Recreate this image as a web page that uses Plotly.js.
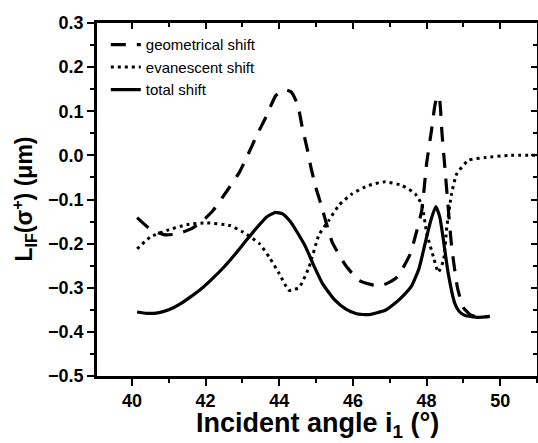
<!DOCTYPE html>
<html>
<head>
<meta charset="utf-8">
<script src="https://cdn.plot.ly/plotly-3.0.1.min.js"></script>
<style>html,body{margin:0;padding:0;background:#fff;}#chart{width:538px;height:443px;}</style>
</head>
<body>
<div id="chart"></div>
<script>
// Geometrical shift (dashed)
const geoX = [40.14, 40.54, 40.9, 41.22, 41.62, 41.9, 42.2, 42.56, 42.92, 43.14, 43.41, 43.64, 43.91, 44.14, 44.32, 44.5, 44.63, 44.77, 44.86, 44.99, 45.13, 45.31, 45.44, 45.8, 46.16, 46.5, 46.79, 47.2, 47.56, 47.69, 47.87, 48.0, 48.14, 48.22, 48.29, 48.35, 48.42, 48.5, 48.59, 48.68, 48.84, 49.0, 49.2, 49.45, 49.7];
const geoY = [-0.141, -0.170, -0.180, -0.178, -0.166, -0.150, -0.125, -0.083, -0.038, 0.0, 0.049, 0.087, 0.136, 0.149, 0.144, 0.115, 0.061, 0.011, -0.027, -0.072, -0.110, -0.163, -0.197, -0.249, -0.283, -0.293, -0.295, -0.276, -0.223, -0.185, -0.125, -0.02, 0.06, 0.11, 0.135, 0.128, 0.05, -0.03, -0.12, -0.205, -0.30, -0.345, -0.362, -0.366, -0.365];
// Evanescent shift (dotted)
const evaX = [40.14, 40.5, 40.95, 41.49, 42.03, 42.66, 43.02, 43.46, 43.73, 44.0, 44.27, 44.54, 44.81, 45.08, 45.35, 45.62, 45.98, 46.43, 46.88, 47.33, 47.69, 47.87, 48.01, 48.19, 48.32, 48.46, 48.55, 48.68, 48.82, 49.14, 49.59, 50.22, 51.0];
const evaY = [-0.212, -0.185, -0.170, -0.157, -0.153, -0.159, -0.174, -0.200, -0.231, -0.268, -0.306, -0.299, -0.253, -0.180, -0.147, -0.113, -0.087, -0.068, -0.060, -0.068, -0.087, -0.112, -0.178, -0.231, -0.265, -0.238, -0.163, -0.087, -0.042, -0.011, -0.005, 0.0, 0.0];
// Total shift (solid)
const totX = [40.14, 40.4, 40.7, 41.0, 41.3, 41.6, 41.9, 42.2, 42.5, 42.8, 43.1, 43.4, 43.65, 43.9, 44.1, 44.3, 44.5, 44.72, 44.95, 45.17, 45.5, 45.8, 46.1, 46.43, 46.88, 47.1, 47.33, 47.6, 47.8, 47.96, 48.1, 48.25, 48.36, 48.46, 48.59, 48.77, 48.9, 49.05, 49.4, 49.72];
const totY = [-0.355, -0.358, -0.357, -0.350, -0.337, -0.320, -0.301, -0.278, -0.253, -0.224, -0.193, -0.163, -0.140, -0.129, -0.133, -0.150, -0.176, -0.208, -0.252, -0.290, -0.327, -0.348, -0.359, -0.361, -0.351, -0.338, -0.321, -0.295, -0.255, -0.200, -0.152, -0.116, -0.140, -0.193, -0.268, -0.336, -0.355, -0.363, -0.367, -0.365];

const names = ['geometrical shift', 'evanescent shift', 'total shift'];
const xTitle = 'Incident angle i<sub>1</sub> (°)';
const yTitle = 'L<sub>IF</sub>(σ<sup>+</sup>) (μm)';

const FONT = 'Liberation Sans, Arial, sans-serif';
const XR = [39.05, 51];
const YR = [-0.5, 0.3];

const data = [
  {x: geoX, y: geoY, name: names[0], type: 'scatter', mode: 'lines', line: {color: '#000', width: 3.2, dash: '15px,11px', shape: 'spline', smoothing: 0.5}},
  {x: evaX, y: evaY, name: names[1], type: 'scatter', mode: 'lines', xaxis: 'x2', yaxis: 'y2', line: {color: '#000', width: 3, dash: '3px,4px', shape: 'spline', smoothing: 0.5}},
  {x: totX, y: totY, name: names[2], type: 'scatter', mode: 'lines', line: {color: '#000', width: 3.2, shape: 'spline', smoothing: 0.5}}
];

const TL = {family: FONT, size: 18, color: '#000', weight: 'bold'};

const layout = {
  width: 538, height: 443,
  margin: {l: 97, r: 1, t: 23, b: 67},
  showlegend: true,
  legend: {x: 0.02, y: 0.985, xanchor: 'left', yanchor: 'top', bgcolor: 'rgba(0,0,0,0)', traceorder: 'normal',
           font: {family: FONT, size: 15, color: '#000'}, tracegroupgap: 0},
  xaxis: {
    range: XR, tickmode: 'linear', tick0: 40, dtick: 2, ticks: 'outside', ticklen: 7, tickwidth: 2, tickcolor: '#000',
    showgrid: false, zeroline: false, showline: true, linecolor: '#000', linewidth: 2.5, automargin: false,
    tickfont: TL,
    minor: {ticks: 'outside', dtick: 1, ticklen: 4, tickwidth: 2, tickcolor: '#000'}
  },
  yaxis: {
    range: YR, tickmode: 'linear', tick0: 0, dtick: 0.1, tickformat: '.1f', ticks: 'outside', ticklen: 7, tickwidth: 2, tickcolor: '#000',
    showgrid: false, zeroline: false, showline: true, linecolor: '#000', linewidth: 2.5, automargin: false,
    tickfont: TL,
    minor: {ticks: 'outside', dtick: 0.05, ticklen: 4, tickwidth: 2, tickcolor: '#000'}
  },
  xaxis2: {overlaying: 'x', anchor: 'y2', side: 'top', range: XR, tickmode: 'linear', tick0: 40, dtick: 2, ticks: 'inside', showticklabels: false,
    showgrid: false, zeroline: false, showline: true, linecolor: '#000', linewidth: 2.5, tickcolor: '#000', tickwidth: 2, ticklen: 6,
    minor: {ticks: 'inside', dtick: 1, ticklen: 4, tickwidth: 2, tickcolor: '#000'}},
  yaxis2: {overlaying: 'y', anchor: 'x2', side: 'right', range: YR, tickmode: 'linear', tick0: 0, dtick: 0.1, ticks: 'inside', showticklabels: false,
    showgrid: false, zeroline: false, showline: true, linecolor: '#000', linewidth: 2.5, tickcolor: '#000', tickwidth: 2, ticklen: 6,
    minor: {ticks: 'inside', dtick: 0.05, ticklen: 4, tickwidth: 2, tickcolor: '#000'}},
  annotations: [
    {text: xTitle, xref: 'paper', yref: 'paper', x: 0.5, y: -0.139, xanchor: 'center', yanchor: 'middle', showarrow: false,
     font: {family: FONT, size: 27, color: '#000', weight: 'bold'}},
    {text: yTitle, xref: 'paper', yref: 'paper', x: -0.168, y: 0.5, xanchor: 'center', yanchor: 'middle', showarrow: false, textangle: -90,
     font: {family: FONT, size: 23, color: '#000', weight: 'bold'}}
  ]
};

Plotly.newPlot('chart', data, layout, {displayModeBar: false});
</script>
</body>
</html>
